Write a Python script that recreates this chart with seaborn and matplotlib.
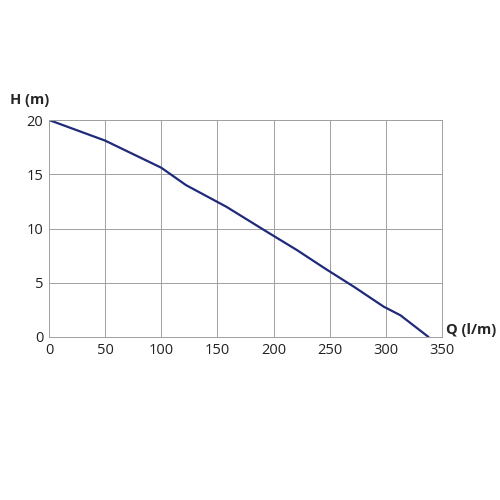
import matplotlib
matplotlib.use("Agg")
import matplotlib.pyplot as plt
import seaborn as sns
import pandas as pd

q = [0, 50, 100, 122, 158, 194, 221, 246, 272, 298, 313, 338]
h = [20, 18.1, 15.6, 14.0, 12.0, 9.7, 8.0, 6.3, 4.6, 2.8, 2.0, 0]
xticks = [0, 50, 100, 150, 200, 250, 300, 350]
yticks = [0, 5, 10, 15, 20]

sns.set_style("white")
plt.rcParams['font.family'] = ['Open Sans', 'DejaVu Sans']
fig = plt.figure(figsize=(5, 5), dpi=100)
ax = fig.add_axes([0.098, 0.326, 0.786, 0.434])
df = pd.DataFrame({"Q": q, "H": h})
sns.lineplot(data=df, x="Q", y="H", ax=ax, color="#1f2a7a", linewidth=1.6)
ax.set_xlim(0, 350)
ax.set_ylim(0, 20)
ax.set_xticks(xticks)
ax.set_yticks(yticks)
ax.grid(True, color="#a0a0a0", linewidth=0.7)
for s in ax.spines.values():
    s.set_color("#a0a0a0")
    s.set_linewidth(0.7)
ax.tick_params(labelsize=10.5, length=0, pad=4, colors="#222222")
ax.set_xlabel("")
ax.set_ylabel("")
ax.text(-0.1, 1.06, "H (m)", transform=ax.transAxes, fontsize=10.5, fontweight="bold", ha="left", va="bottom")
ax.text(1.01, 0.0, "Q (l/m)", transform=ax.transAxes, fontsize=10.5, fontweight="bold", ha="left", va="bottom")
fig.savefig("out.png", dpi=100)
